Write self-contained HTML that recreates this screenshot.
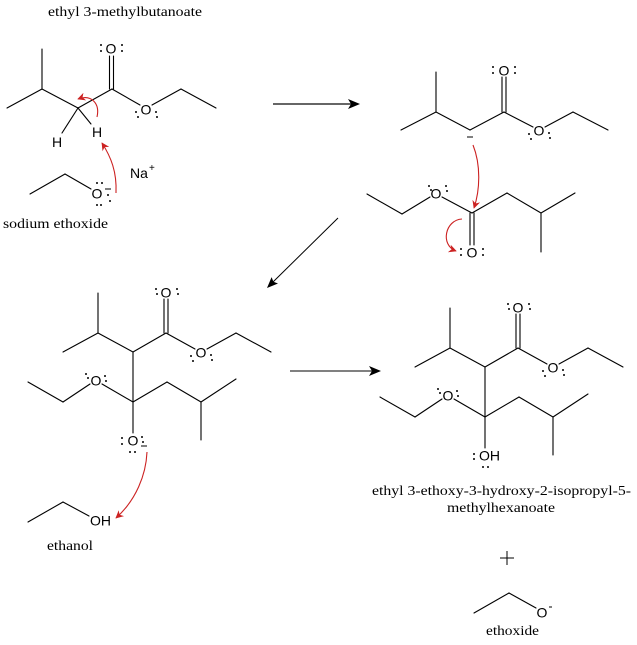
<!DOCTYPE html>
<html>
<head>
<meta charset="utf-8">
<style>
  html,body{margin:0;padding:0;background:#fff;}
  svg{display:block;}
  .b{stroke:#000;stroke-width:1.1;fill:none;stroke-linecap:round;}
  .at{font-family:"Liberation Sans",Arial,sans-serif;font-size:14px;fill:#000;}
  .cap{font-family:"Liberation Serif","Times New Roman",serif;font-size:14px;fill:#000;}
  .r{stroke:#cc2222;stroke-width:1.1;fill:none;}
  .d{fill:#000;}
</style>
</head>
<body>
<svg width="637" height="645" viewBox="0 0 637 645" xmlns="http://www.w3.org/2000/svg">
  <defs>
    <marker id="rh" viewBox="0 0 10 10" refX="9" refY="5" markerWidth="10" markerHeight="8" markerUnits="userSpaceOnUse" orient="auto">
      <path d="M0,0 L10,5 L0,10 L3,5 z" fill="#cc2222"/>
    </marker>
  </defs>

  <!-- ===== Structure 1: ethyl 3-methylbutanoate ===== -->
  <text class="cap" x="48" y="16" textLength="154" lengthAdjust="spacingAndGlyphs">ethyl 3-methylbutanoate</text>
  <g class="b">
    <line x1="42" y1="49" x2="42" y2="89"/>
    <line x1="7" y1="108" x2="42" y2="89"/>
    <line x1="42" y1="89" x2="78" y2="108"/>
    <line x1="78" y1="108" x2="112" y2="89"/>
    <line x1="109.5" y1="89" x2="109.5" y2="56"/>
    <line x1="113.5" y1="89" x2="113.5" y2="56"/>
    <line x1="112" y1="89" x2="140" y2="105"/>
    <line x1="152" y1="105" x2="181" y2="89"/>
    <line x1="181" y1="89" x2="216" y2="108"/>
    <line x1="78" y1="108" x2="62" y2="133"/>
    <line x1="78" y1="108" x2="91" y2="124"/>
  </g>
  <text class="at" x="111" y="53.5" text-anchor="middle">O</text>
  <circle class="d" cx="101" cy="45" r="1"/><circle class="d" cx="101" cy="51" r="1"/>
  <circle class="d" cx="122" cy="45" r="1"/><circle class="d" cx="122" cy="51" r="1"/>
  <text class="at" x="146" y="114.5" text-anchor="middle">O</text>
  <circle class="d" cx="136" cy="112" r="1"/><circle class="d" cx="138" cy="117" r="1"/>
  <circle class="d" cx="156" cy="112" r="1"/><circle class="d" cx="157" cy="117" r="1"/>
  <text class="at" x="57" y="147" text-anchor="middle">H</text>
  <text class="at" x="97" y="137" text-anchor="middle">H</text>
  <path class="r" d="M97,117 C100,104 92,94 78,99" marker-end="url(#rh)"/>

  <!-- sodium ethoxide -->
  <g class="b">
    <line x1="30" y1="194" x2="65" y2="174"/>
    <line x1="65" y1="174" x2="91" y2="189"/>
  </g>
  <text class="at" x="97" y="198.5" text-anchor="middle">O</text>
  <line x1="105" y1="189" x2="111" y2="189" stroke="#000" stroke-width="1"/>
  <circle class="d" cx="97" cy="183" r="1"/><circle class="d" cx="102" cy="183" r="1"/>
  <circle class="d" cx="97" cy="205" r="1"/><circle class="d" cx="101" cy="205" r="1"/>
  <circle class="d" cx="108" cy="195" r="1"/><circle class="d" cx="110" cy="201" r="1"/>
  <text class="at" x="130" y="178">Na</text>
  <text class="at" x="149" y="171" style="font-size:10px">+</text>
  <path class="r" d="M116,193 C117,172 111,157 102,143" marker-end="url(#rh)"/>
  <text class="cap" x="3" y="228" textLength="105" lengthAdjust="spacingAndGlyphs">sodium ethoxide</text>

  <!-- arrow 1 -->
  <line x1="273" y1="104" x2="352" y2="104" stroke="#333" stroke-width="1.4"/>
  <polygon points="360,104 348,99 351,104 348,109" fill="#000"/>

  <!-- ===== Structure 2: enolate ===== -->
  <g class="b">
    <line x1="436" y1="72" x2="436" y2="112"/>
    <line x1="401" y1="130" x2="436" y2="112"/>
    <line x1="436" y1="112" x2="470" y2="130"/>
    <line x1="470" y1="130" x2="504" y2="112"/>
    <line x1="502" y1="112" x2="502" y2="77"/>
    <line x1="506" y1="112" x2="506" y2="77"/>
    <line x1="504" y1="112" x2="533" y2="127"/>
    <line x1="545" y1="127" x2="573" y2="112"/>
    <line x1="573" y1="112" x2="608" y2="130"/>
  </g>
  <line x1="467" y1="137" x2="473" y2="137" stroke="#000" stroke-width="1"/>
  <text class="at" x="504" y="75.5" text-anchor="middle">O</text>
  <circle class="d" cx="493" cy="67" r="1"/><circle class="d" cx="493" cy="73" r="1"/>
  <circle class="d" cx="515" cy="67" r="1"/><circle class="d" cx="515" cy="73" r="1"/>
  <text class="at" x="539" y="135.5" text-anchor="middle">O</text>
  <circle class="d" cx="529" cy="134" r="1"/><circle class="d" cx="531" cy="139" r="1"/>
  <circle class="d" cx="549" cy="133" r="1"/><circle class="d" cx="550" cy="138" r="1"/>

  <!-- Structure 2b: second ester -->
  <g class="b">
    <line x1="367" y1="194" x2="402" y2="214"/>
    <line x1="402" y1="214" x2="430" y2="197"/>
    <line x1="442" y1="197" x2="472" y2="213"/>
    <line x1="472" y1="213" x2="507" y2="193"/>
    <line x1="507" y1="193" x2="541" y2="213"/>
    <line x1="541" y1="213" x2="575" y2="193"/>
    <line x1="541" y1="213" x2="541" y2="252"/>
    <line x1="470" y1="213" x2="470" y2="245"/>
    <line x1="474" y1="213" x2="474" y2="245"/>
  </g>
  <text class="at" x="436" y="198.5" text-anchor="middle">O</text>
  <circle class="d" cx="429" cy="186" r="1"/><circle class="d" cx="431" cy="190" r="1"/>
  <circle class="d" cx="446" cy="186" r="1"/><circle class="d" cx="447" cy="191" r="1"/>
  <text class="at" x="472" y="257.5" text-anchor="middle">O</text>
  <circle class="d" cx="461" cy="249" r="1"/><circle class="d" cx="461" cy="255" r="1"/>
  <circle class="d" cx="483" cy="249" r="1"/><circle class="d" cx="483" cy="255" r="1"/>
  <path class="r" d="M473,145 C481,165 480,190 474,208" marker-end="url(#rh)"/>
  <path class="r" d="M462,219 C445,220 440,245 456,251" marker-end="url(#rh)"/>

  <!-- arrow 2 diagonal -->
  <line x1="338" y1="218" x2="273" y2="282" stroke="#000" stroke-width="1"/>
  <polygon points="267,288 278,283.5 273.4,281.7 271.6,277.1" fill="#000"/>

  <!-- ===== Structure 3: tetrahedral intermediate ===== -->
  <g id="s3">
    <g class="b">
      <line x1="98" y1="293" x2="98" y2="333"/>
      <line x1="63" y1="352" x2="98" y2="333"/>
      <line x1="98" y1="333" x2="133" y2="352"/>
      <line x1="133" y1="352" x2="166" y2="333"/>
      <line x1="164" y1="333" x2="164" y2="299"/>
      <line x1="168" y1="333" x2="168" y2="299"/>
      <line x1="166" y1="333" x2="195" y2="349"/>
      <line x1="207" y1="349" x2="236" y2="333"/>
      <line x1="236" y1="333" x2="271" y2="352"/>
      <line x1="133" y1="352" x2="133" y2="402"/>
      <line x1="133" y1="402" x2="102" y2="384"/>
      <line x1="90" y1="384" x2="63" y2="402"/>
      <line x1="63" y1="402" x2="28" y2="382"/>
      <line x1="133" y1="402" x2="167" y2="382"/>
      <line x1="167" y1="382" x2="201" y2="402"/>
      <line x1="201" y1="402" x2="236" y2="379"/>
      <line x1="201" y1="402" x2="201" y2="440"/>
      <line x1="133" y1="402" x2="133" y2="433"/>
    </g>
    <text class="at" x="166" y="297.5" text-anchor="middle">O</text>
    <circle class="d" cx="156" cy="289" r="1"/><circle class="d" cx="157" cy="294" r="1"/>
    <circle class="d" cx="177" cy="289" r="1"/><circle class="d" cx="178" cy="294" r="1"/>
    <text class="at" x="201" y="357.5" text-anchor="middle">O</text>
    <circle class="d" cx="191" cy="356" r="1"/><circle class="d" cx="193" cy="361" r="1"/>
    <circle class="d" cx="211" cy="355" r="1"/><circle class="d" cx="212" cy="360" r="1"/>
    <text class="at" x="96" y="385.5" text-anchor="middle">O</text>
    <circle class="d" cx="86" cy="374" r="1"/><circle class="d" cx="88" cy="378" r="1"/>
    <circle class="d" cx="105" cy="376" r="1"/><circle class="d" cx="106" cy="381" r="1"/>
  </g>
  <text class="at" x="133" y="445.5" text-anchor="middle">O</text>
  <circle class="d" cx="122" cy="438" r="1"/><circle class="d" cx="122" cy="444" r="1"/>
  <circle class="d" cx="142" cy="437" r="1"/><circle class="d" cx="143" cy="442" r="1"/>
  <line x1="141" y1="446" x2="147" y2="446" stroke="#000" stroke-width="1"/>
  <circle class="d" cx="130" cy="452" r="1"/><circle class="d" cx="135" cy="452" r="1"/>
  <path class="r" d="M147,452 C146,475 136,500 116,518" marker-end="url(#rh)"/>

  <!-- ethanol -->
  <g class="b">
    <line x1="28" y1="522" x2="63" y2="502"/>
    <line x1="63" y1="502" x2="89" y2="516"/>
  </g>
  <text class="at" x="90" y="525.5">OH</text>
  <text class="cap" x="47" y="550" textLength="46" lengthAdjust="spacingAndGlyphs">ethanol</text>

  <!-- arrow 3 -->
  <line x1="290" y1="371" x2="373" y2="371" stroke="#000" stroke-width="1.1"/>
  <polygon points="381,371 369,366 372,371 369,376" fill="#000"/>

  <!-- ===== Structure 4: product ===== -->
  <use href="#s3" transform="translate(352,15)"/>
  <text class="at" x="479" y="460.5">OH</text>
  <circle class="d" cx="474" cy="454" r="1"/><circle class="d" cx="474" cy="459" r="1"/>
  <circle class="d" cx="483" cy="467" r="1"/><circle class="d" cx="488" cy="467" r="1"/>
  <text class="cap" x="372" y="495" textLength="259" lengthAdjust="spacingAndGlyphs">ethyl 3-ethoxy-3-hydroxy-2-isopropyl-5-</text>
  <text class="cap" x="447" y="512" textLength="108" lengthAdjust="spacingAndGlyphs">methylhexanoate</text>

  <!-- plus -->
  <line x1="500" y1="558" x2="514" y2="558" stroke="#000" stroke-width="1"/>
  <line x1="507" y1="551" x2="507" y2="565" stroke="#000" stroke-width="1"/>

  <!-- ethoxide -->
  <g class="b">
    <line x1="474" y1="613" x2="509" y2="593"/>
    <line x1="509" y1="593" x2="536" y2="608"/>
  </g>
  <text class="at" x="542" y="617.5" text-anchor="middle">O</text>
  <line x1="549" y1="607" x2="552" y2="607" stroke="#000" stroke-width="1"/>
  <text class="cap" x="486" y="635" textLength="53" lengthAdjust="spacingAndGlyphs">ethoxide</text>
</svg>
</body>
</html>
